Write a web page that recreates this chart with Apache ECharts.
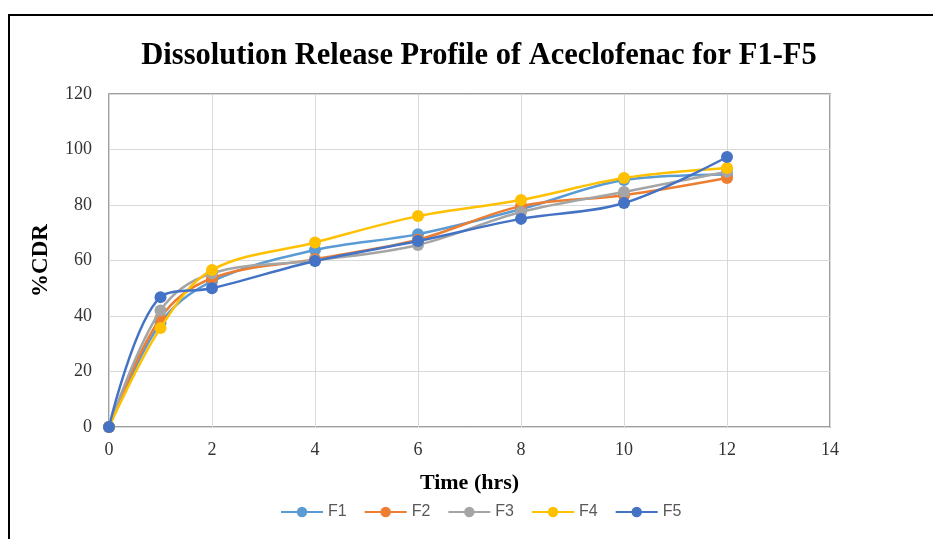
<!DOCTYPE html>
<html>
<head>
<meta charset="utf-8">
<script src="https://cdn.jsdelivr.net/npm/echarts@6/dist/echarts.min.js"></script>
<style>
  html, body { margin: 0; padding: 0; background: #fff; }
  #chart { width: 933px; height: 539px; }
</style>
</head>
<body>
<div id="chart"></div>
<script>
// Sampling times (hrs)
const timePoints = [0, 1, 2, 4, 6, 8, 10, 12];

// Cumulative drug release (%CDR) for each formulation
const F1 = [0, 37.5, 52.5, 63.8, 69.5, 78.5, 89.0, 91.0];
const F2 = [0, 39.3, 53.6, 60.5, 67.5, 79.6, 83.5, 89.7];
const F3 = [0, 42.0, 55.4, 60.0, 65.6, 77.5, 84.7, 92.0];
const F4 = [0, 35.7, 56.6, 66.5, 76.0, 81.8, 89.7, 93.3];
const F5 = [0, 46.8, 50.0, 59.8, 67.0, 75.0, 80.7, 97.3];

const seriesNames = ['F1', 'F2', 'F3', 'F4', 'F5'];
const seriesValues = [F1, F2, F3, F4, F5];
const seriesColors = ['#5B9BD5', '#ED7D31', '#A5A5A5', '#FFC000', '#4472C4'];

const serif = '"Liberation Serif", "Times New Roman", serif';

const chart = echarts.init(document.getElementById('chart'));

chart.setOption({
  backgroundColor: '#ffffff',
  animation: false,
  title: {
    text: 'Dissolution Release Profile of Aceclofenac for F1-F5',
    left: 474,
    top: 36,
    textAlign: 'center',
    textStyle: { fontFamily: serif, fontSize: 30.5, fontWeight: 'bold', color: '#000' }
  },
  graphic: [{
    type: 'rect',
    shape: { x: 9, y: 15, width: 1000, height: 600 },
    style: { fill: 'none', stroke: '#000', lineWidth: 2 },
    silent: true
  }],
  legend: {
    data: seriesNames,
    bottom: 14,
    left: 275,
    itemWidth: 42,
    itemHeight: 13,
    itemGap: 17,
    textStyle: { fontFamily: '"Liberation Sans", Arial, sans-serif', fontSize: 16, color: '#595959' }
  },
  grid: {
    left: 109,
    top: 94,
    width: 721,
    height: 333,
    show: true,
    borderColor: '#7f7f7f',
    borderWidth: 1.5
  },
  xAxis: {
    type: 'value',
    min: 0,
    max: 14,
    interval: 2,
    name: 'Time (hrs)',
    nameLocation: 'middle',
    nameGap: 45,
    nameTextStyle: { fontFamily: serif, fontSize: 22, fontWeight: 'bold', color: '#000' },
    axisLine: { show: false },
    axisTick: { show: false },
    axisLabel: { fontFamily: serif, fontSize: 18, color: '#333', margin: 14 },
    splitLine: { show: true, lineStyle: { color: '#d9d9d9', width: 1 } }
  },
  yAxis: {
    type: 'value',
    min: 0,
    max: 120,
    interval: 20,
    name: '%CDR',
    nameLocation: 'middle',
    nameGap: 56,
    nameRotate: 90,
    nameTextStyle: { fontFamily: serif, fontSize: 23, fontWeight: 'bold', color: '#000' },
    axisLine: { show: false },
    axisTick: { show: false },
    axisLabel: { fontFamily: serif, fontSize: 18, color: '#333', margin: 17 },
    splitLine: { show: true, lineStyle: { color: '#d9d9d9', width: 1 } }
  },
  series: seriesNames.map((name, i) => ({
    name: name,
    type: 'line',
    smooth: 0.35,
    data: timePoints.map((t, j) => [t, seriesValues[i][j]]),
    symbol: 'circle',
    symbolSize: 12,
    showSymbol: true,
    lineStyle: { width: 2.5, color: seriesColors[i] },
    itemStyle: { color: seriesColors[i] },
    emphasis: { disabled: true },
    z: 2 + i
  }))
});
</script>
</body>
</html>
